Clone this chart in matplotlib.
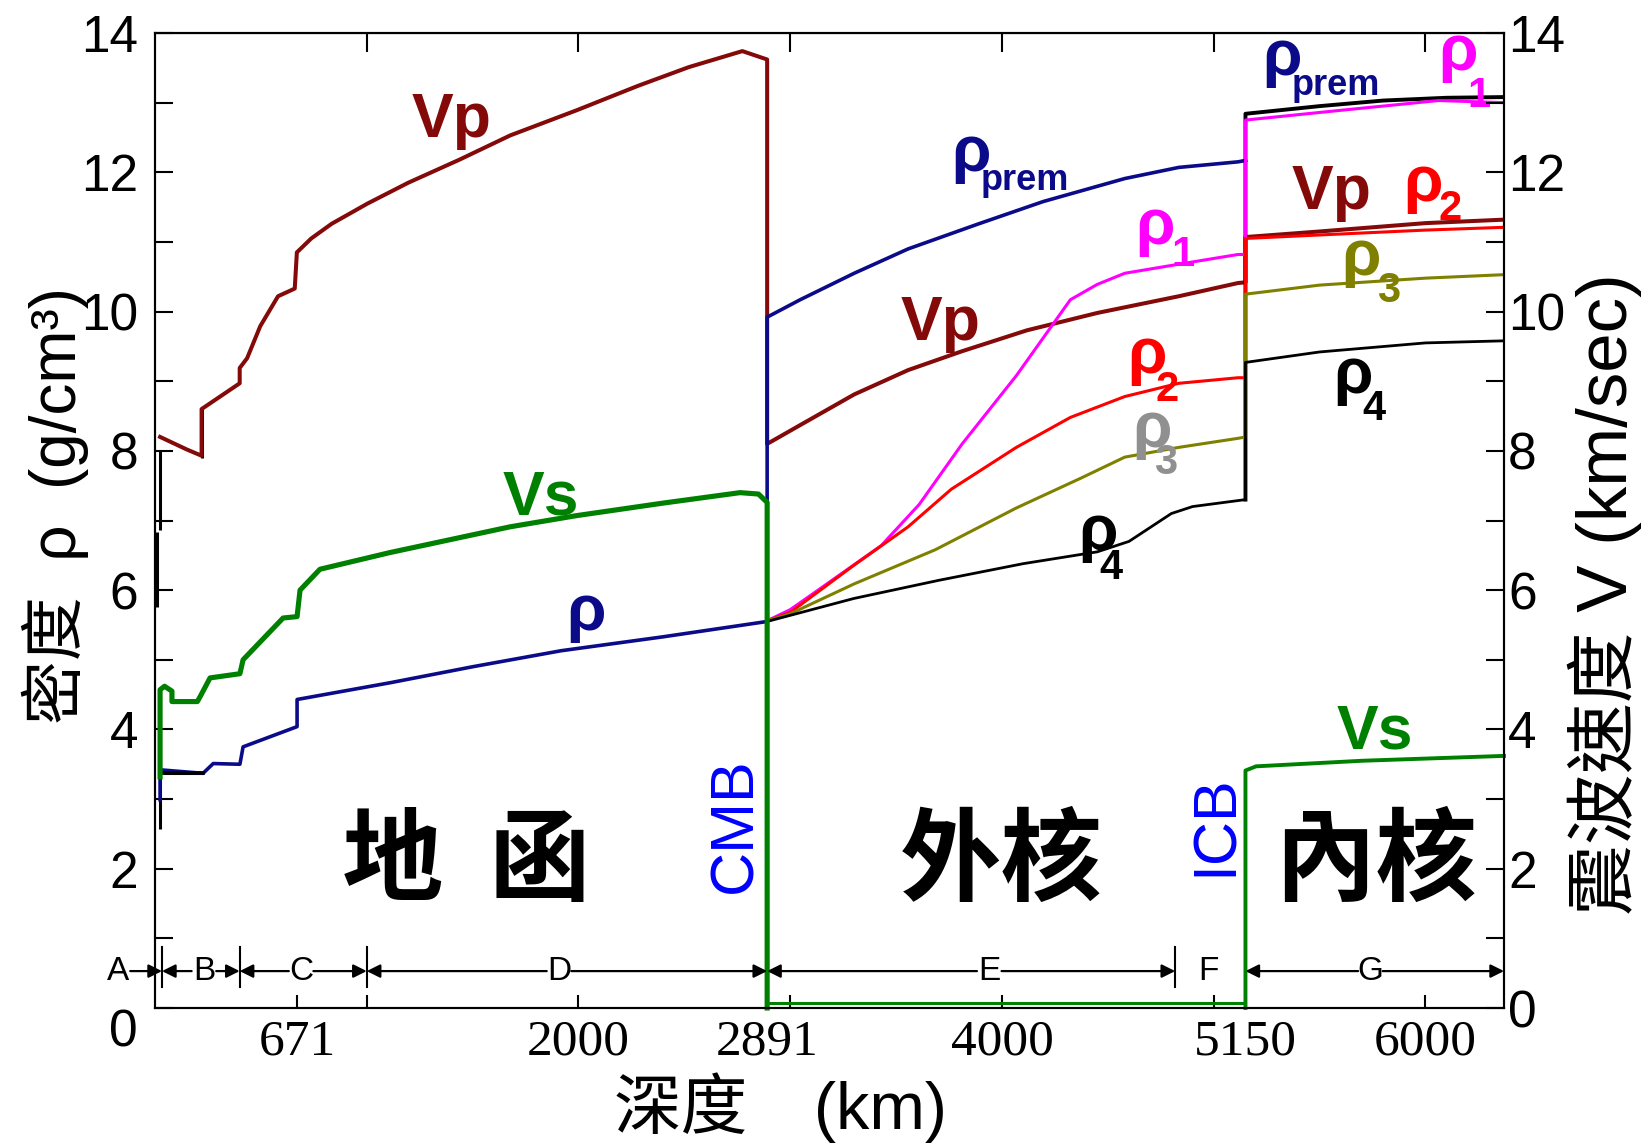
import matplotlib
matplotlib.use('Agg')
import matplotlib.pyplot as plt
from matplotlib.transforms import offset_copy, blended_transform_factory

plt.rcParams['font.family'] = ['Liberation Sans', 'Noto Sans CJK TC', 'DejaVu Sans']

# ------------------------------------------------------------------ data
DEPTH_MAX = 6371
CMB = 2891
ICB = 5150

# P-wave velocity (km/s)
vp_mantle_depth = [24, 80, 150, 220, 220, 400, 400, 435, 497, 581, 660, 670, 738, 834,
                   1003, 1196, 1437, 1678, 1991, 2280, 2521, 2774, 2871, 2891]
vp_mantle = [8.20, 8.12, 8.02, 7.93, 8.60, 8.97, 9.19, 9.33, 9.79, 10.22, 10.33, 10.85, 11.05, 11.26,
             11.55, 11.85, 12.18, 12.53, 12.89, 13.24, 13.51, 13.74, 13.64, 13.62]
vp_outer_depth = [2891, 3047, 3302, 3557, 3811, 4117, 4450, 4835, 5115, 5150]
vp_outer = [8.10, 8.37, 8.81, 9.16, 9.43, 9.73, 9.98, 10.22, 10.41, 10.42]
vp_inner_depth = [5150, 5500, 6000, 6371]
vp_inner = [11.07, 11.15, 11.27, 11.32]

# S-wave velocity (km/s)
vs_mantle_depth = [24, 24, 45, 80, 80, 200, 213, 260, 401, 416, 605, 671, 685, 779,
                   1110, 1678, 1991, 2400, 2763, 2850, 2891, 2891]
vs_mantle = [3.32, 4.57, 4.62, 4.55, 4.40, 4.40, 4.47, 4.74, 4.80, 5.00, 5.60, 5.62, 6.00, 6.30,
             6.54, 6.91, 7.07, 7.25, 7.40, 7.38, 7.26, 0.0]
vs_outer_depth = [2891, 5150]
vs_outer = [0.0, 0.0]
vs_inner_depth = [5150, 5150, 5200, 5700, 6371]
vs_inner = [0.0, 3.41, 3.47, 3.55, 3.62]

# density (g/cm3), PREM
rho_mantle_depth = [24, 24, 227, 275, 401, 416, 671, 671, 1110, 1500, 1918, 2400, 2891]
rho_mantle = [2.99, 3.42, 3.37, 3.51, 3.50, 3.75, 4.04, 4.43, 4.67, 4.90, 5.13, 5.33, 5.55]
rho_prem_outer_depth = [2891, 3047, 3302, 3557, 3890, 4195, 4580, 4835, 5115, 5150]
rho_prem_outer = [9.92, 10.17, 10.55, 10.90, 11.26, 11.58, 11.91, 12.07, 12.15, 12.17]
rho_prem_inner_depth = [5150, 5150, 5500, 5800, 6100, 6371]
rho_prem_inner = [7.30, 12.84, 12.95, 13.03, 13.07, 13.08]

# alternative core density models
rho1_depth = [2891, 3000, 3122, 3430, 3609, 3812, 4068, 4323, 4450, 4580, 4835, 5115, 5150,
              5150, 5600, 6061, 6371]
rho1 = [5.56, 5.72, 5.98, 6.64, 7.23, 8.10, 9.08, 10.17, 10.39, 10.55, 10.68, 10.82, 10.82,
        12.75, 12.89, 13.03, 13.00]
rho2_depth = [2891, 3000, 3302, 3557, 3761, 4068, 4323, 4580, 4835, 5115, 5150,
              5150, 5500, 6000, 6371]
rho2 = [5.56, 5.68, 6.36, 6.91, 7.45, 8.05, 8.48, 8.78, 8.97, 9.05, 9.05,
        11.05, 11.10, 11.17, 11.21]
rho3_depth = [2891, 3000, 3302, 3685, 4068, 4374, 4580, 4835, 5115, 5150,
              5150, 5500, 6000, 6371]
rho3 = [5.56, 5.66, 6.09, 6.58, 7.18, 7.61, 7.91, 8.05, 8.18, 8.20,
        10.25, 10.38, 10.48, 10.53]
rho4_depth = [2891, 3300, 3700, 4100, 4450, 4600, 4700, 4800, 4900, 5150,
              5150, 5500, 6000, 6371]
rho4 = [5.55, 5.88, 6.14, 6.38, 6.55, 6.70, 6.90, 7.10, 7.20, 7.30,
        9.27, 9.42, 9.55, 9.58]

# black crust / transition details near the surface
crust_black_segments = [
    ([8, 8], [5.76, 6.84]),
    ([24, 24], [6.87, 8.00]),
    ([24, 24], [2.57, 3.33]),
    ([40, 227], [3.37, 3.37]),
    ([220, 220], [7.90, 8.60]),
]

# axis ticks
xtick_marks = [671, 1000, 2000, 3000, 4000, 5000, 6000]
xtick_top_marks = [1000, 2000, 3000, 4000, 5000, 6000]
xtick_label_pos = [671, 2000, 2891, 4000, 5150, 6000]
xtick_labels = ['671', '2000', '2891', '4000', '5150', '6000']
ytick_pos = list(range(0, 15))
left_ytick_labels = [str(v) if (v % 2 == 0 and v > 0) else '' for v in ytick_pos]
right_ytick_labels = [str(v) if v % 2 == 0 else '' for v in ytick_pos]

# layer labels
region_names = ['A', 'B', 'C', 'D', 'E', 'F', 'G']
region_label_depth = [-175, 231, 690, 1908, 3940, 4974, 5740]
region_bars = [33, 400, 1000, 4818]
region_arrows = [  # (label index, boundary depth)
    (0, 33), (1, 33), (1, 400), (2, 400), (2, 1000), (3, 1000), (3, 2891),
    (4, 2891), (4, 4818), (6, 5150), (6, 6371)]

# ------------------------------------------------------------------ colours
C_VP = '#840a0a'
C_VS = '#008000'
C_RHO = '#0b0b8a'
C_R1 = '#ff00ff'
C_R2 = '#ff0000'
C_R3 = '#808000'
C_R3G = '#909090'
C_R4 = '#000000'

# ------------------------------------------------------------------ figure
W, H = 1648, 1146
fig = plt.figure(figsize=(W / 100, H / 100), dpi=100)
ax = fig.add_axes([155 / W, 1 - 1008 / H, (1504 - 155) / W, (1008 - 33) / H])
ax.set_xlim(0, DEPTH_MAX)
ax.set_ylim(0, 14)

for s in ax.spines.values():
    s.set_linewidth(1.5)

# crust details
for xs, ys in crust_black_segments:
    ax.plot(xs, ys, color='black', lw=2.2, solid_capstyle='butt', zorder=3)

# Vp
ax.plot(vp_mantle_depth + vp_outer_depth + vp_inner_depth,
        vp_mantle + vp_outer + vp_inner, color=C_VP, lw=2.9, zorder=4)
# density PREM mantle + outer core
ax.plot(rho_mantle_depth + rho_prem_outer_depth, rho_mantle + rho_prem_outer,
        color=C_RHO, lw=2.6, zorder=4)
ax.plot(crust_black_segments[3][0], crust_black_segments[3][1], color='black', lw=2.6, zorder=5)
# inner core PREM density (black)
ax.plot(rho_prem_inner_depth, rho_prem_inner, color='black', lw=2.8, zorder=4)
# core density models
ax.plot(rho1_depth, rho1, color=C_R1, lw=2.2, zorder=5)
ax.plot(rho2_depth, rho2, color=C_R2, lw=2.2, zorder=5)
ax.plot(rho3_depth, rho3, color=C_R3, lw=2.2, zorder=5)
ax.plot(rho4_depth, rho4, color=C_R4, lw=2.0, zorder=6)
# Vs
ax.plot(vs_mantle_depth, vs_mantle, color=C_VS, lw=3.7, zorder=6, clip_on=False)
ax.plot(vs_outer_depth, vs_outer, color=C_VS, lw=2.2, zorder=6,
        transform=offset_copy(ax.transData, fig=fig, x=0, y=3.5, units='points'))
ax.plot(vs_inner_depth, vs_inner, color=C_VS, lw=2.8, zorder=6, clip_on=False)

# ------------------------------------------------------------------ ticks
ax.xaxis.remove_overlapping_locs = False
ax.set_xticks(xtick_marks)
ax.set_xticklabels([])
ax.set_xticks(xtick_label_pos, minor=True)
ax.set_xticklabels(xtick_labels, minor=True, fontfamily='Liberation Serif', fontsize=37)
ax.tick_params(axis='x', which='major', direction='in', length=9.5, width=1.5)
ax.tick_params(axis='x', which='minor', length=0, pad=8)

ax.set_yticks(ytick_pos)
ax.set_yticklabels(left_ytick_labels)
ax.tick_params(axis='y', direction='in', length=13, width=1.5, labelsize=37, pad=12)

sec = ax.secondary_xaxis('top')
sec.set_xticks(xtick_top_marks)
sec.set_xticklabels([])
sec.tick_params(direction='in', length=13.5, width=1.5)

ax2 = ax.twinx()
ax2.set_ylim(0, 14)
ax2.set_yticks(ytick_pos)
ax2.set_yticklabels(right_ytick_labels)
ax2.tick_params(axis='y', direction='in', length=13, width=1.5, labelsize=37, pad=3)
for s in ax2.spines.values():
    s.set_linewidth(1.5)

btrans = blended_transform_factory(ax.transAxes, ax.transData)
ax.text(-0.0126, -0.36, '0', transform=btrans, ha='right', va='center', fontsize=37,
        clip_on=False)

# ------------------------------------------------------------------ axis titles
fig.text(55 / W, 1 - 506 / H, '密度  ρ  (g/cm³)', rotation=90, ha='center', va='center',
         fontsize=46)
fig.text(1605 / W, 1 - 594 / H, '震波速度 V (km/sec)', rotation=90, ha='center', va='center',
         fontsize=51)
fig.text(781 / W, 1 - 1108 / H, '深度　(km)', ha='center', va='center', fontsize=48)

# ------------------------------------------------------------------ curve labels
def lab(x, y, s, color, size=45, ha='center'):
    ax.text(x, y, s, color=color, fontsize=size, ha=ha, va='baseline', fontweight='bold',
            zorder=8)

lab(1400, 12.51, 'Vp', C_VP)
lab(1823, 7.09, 'Vs', C_VS)
lab(3708, 9.59, 'Vp', C_VP)
lab(5555, 11.48, 'Vp', C_VP)
lab(5763, 3.72, 'Vs', C_VS)
lab(1942, 5.43, 'ρ', C_RHO, size=46, ha='left')

rho_labels = [
    ('prem', 3760, 12.02, 3900, 11.75, C_RHO, 26),
    ('prem', 5229, 13.40, 5370, 13.11, C_RHO, 26),
    ('1', 4629, 10.97, 4800, 10.65, C_R1, 30),
    ('1', 6061, 13.47, 6200, 12.94, C_R1, 30),
    ('2', 4591, 9.12, 4725, 8.72, C_R2, 30),
    ('2', 5895, 11.59, 6060, 11.32, C_R2, 30),
    ('3', 4615, 8.06, 4720, 7.67, C_R3G, 30),
    ('3', 5602, 10.53, 5770, 10.14, C_R3, 30),
    ('4', 4360, 6.58, 4460, 6.16, C_R4, 30),
    ('4', 5564, 8.83, 5700, 8.44, C_R4, 30),
]
for sub, mx, my, sx, sy, col, ssize in rho_labels:
    lab(mx, my, 'ρ', col, size=46, ha='left')
    lab(sx, sy, sub, col, size=ssize, ha='left')

# boundary names
ax.text(2744, 2.63, 'CMB', rotation=90, ha='center', va='center', color='#0000ff',
        fontsize=44, zorder=8)
ax.text(5012, 2.63, 'ICB', rotation=90, ha='center', va='center', color='#0000ff',
        fontsize=44, zorder=8)

# region names (Chinese)
cjk = dict(fontfamily=['Noto Sans CJK TC'], fontsize=73, fontweight='bold', ha='center',
           va='center', color='black', zorder=8)
ax.text(1469, 2.08, '地  函', **cjk)
ax.text(3996, 2.08, '外核', **cjk)
ax.text(5764, 2.08, '內核', **cjk)

# layer letters with arrows
YL = 0.53
for name, xd in zip(region_names, region_label_depth):
    ax.text(xd, YL, name, ha='center', va='center', fontsize=24, clip_on=False, zorder=8)
for xb in region_bars:
    ax.plot([xb, xb], [0.30, 0.87], color='black', lw=1.5, zorder=7)
for i, xb in region_arrows:
    xc = region_label_depth[i]
    start = xc + 58 if xb > xc else xc - 58
    ax.annotate('', xy=(xb, YL), xytext=(start, YL),
                arrowprops=dict(arrowstyle='-|>', color='black', lw=1.6,
                                mutation_scale=20, shrinkA=0, shrinkB=0),
                annotation_clip=False, zorder=7)

fig.savefig('out.png', dpi=100)
